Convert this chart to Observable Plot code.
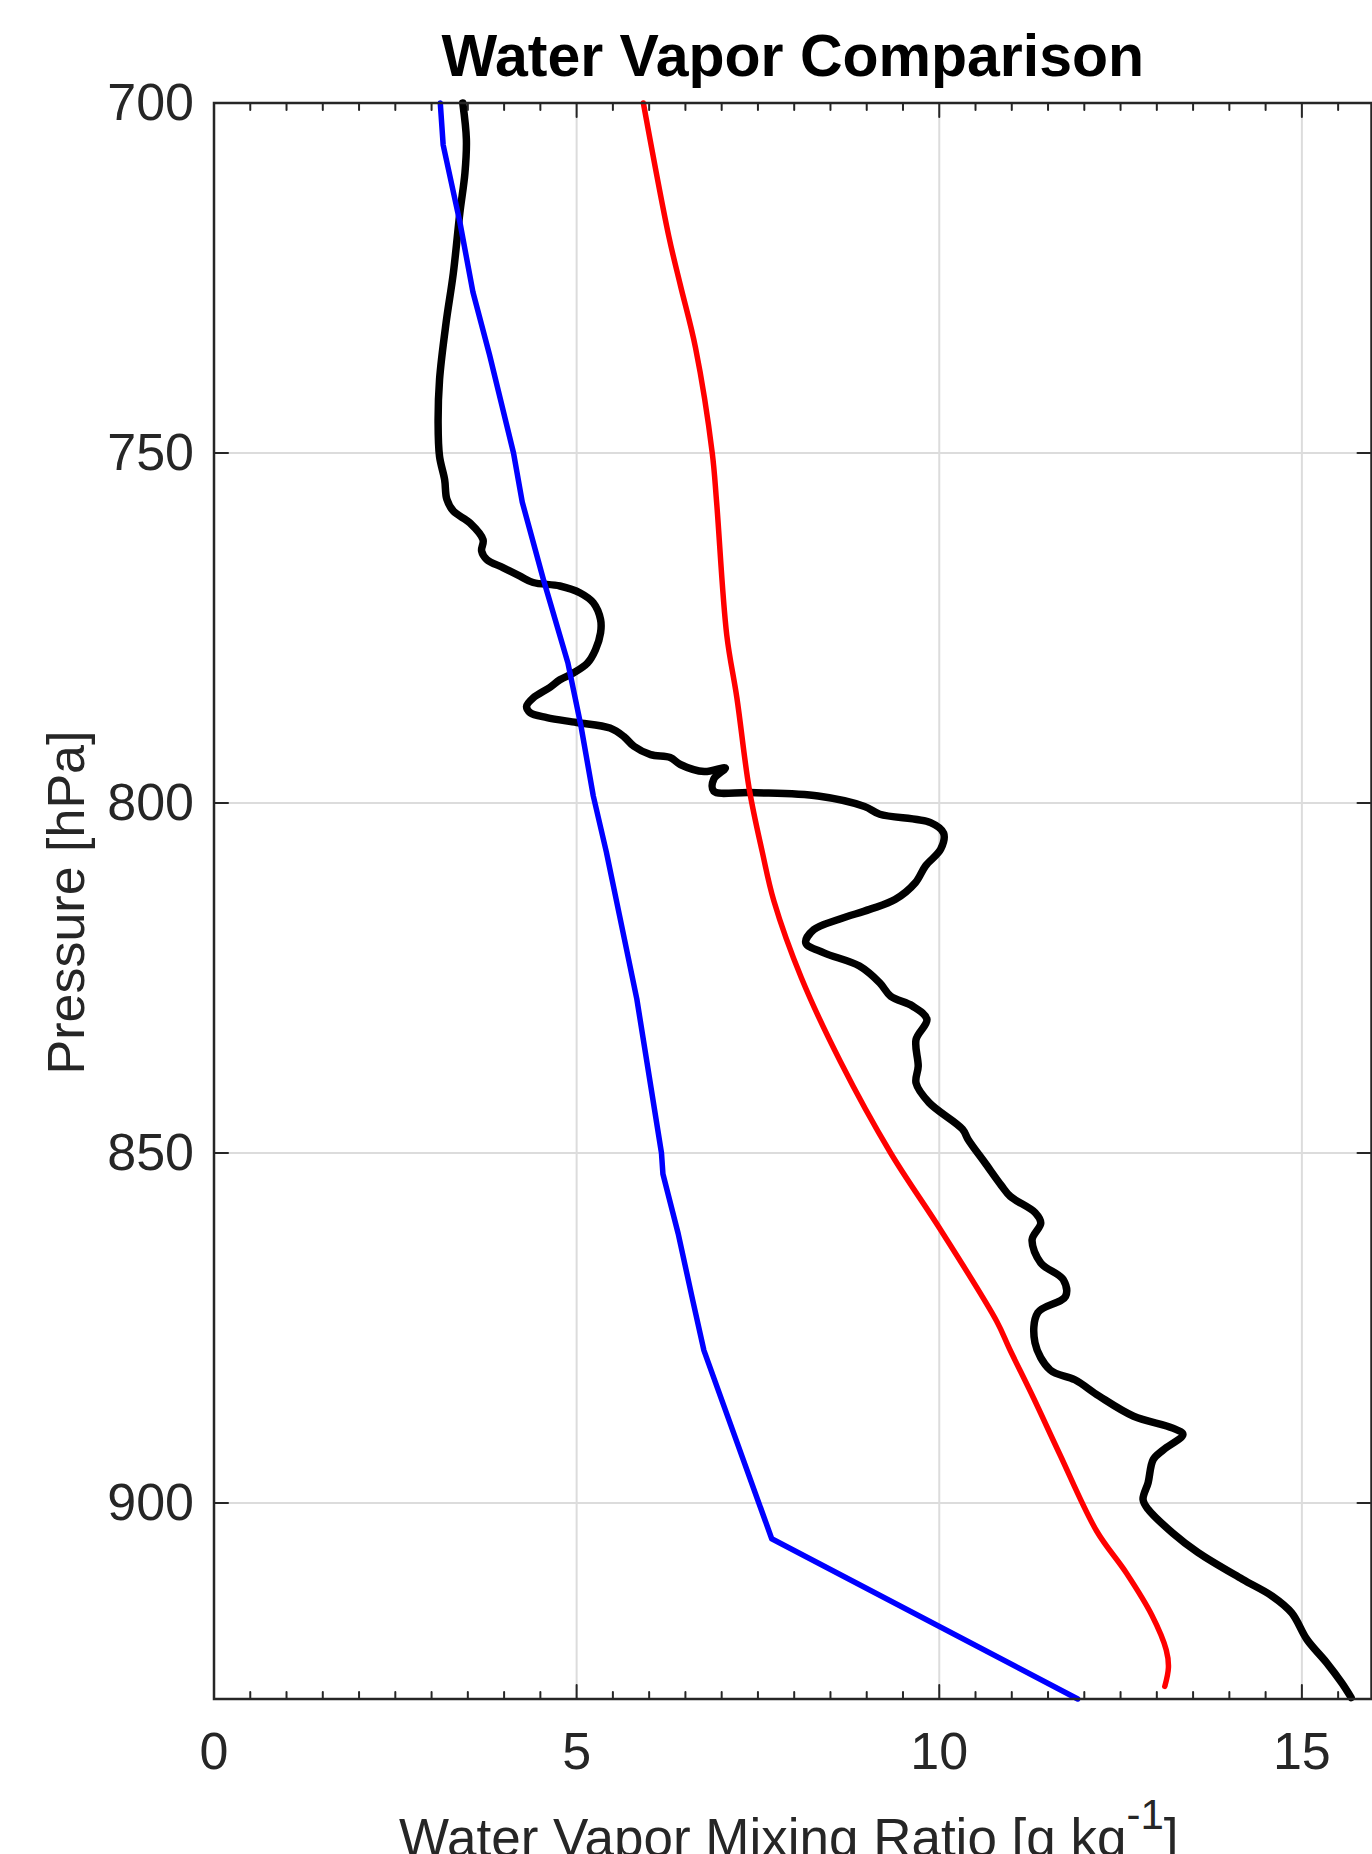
<!DOCTYPE html>
<html>
<head>
<meta charset="utf-8">
<script src="https://cdn.jsdelivr.net/npm/d3@7"></script>
<script src="https://cdn.jsdelivr.net/npm/@observablehq/plot@0.6"></script>
<style>
html, body { margin: 0; padding: 0; background: white; }
#chart svg { display: block; overflow: visible; }
</style>
</head>
<body>
<div id="chart"></div>
<script>
// ---------- data (pressure [hPa], mixing ratio [g/kg]) ----------
// observed sounding (black)
const obsP = [700, 705.2, 710, 715.7, 724.3, 731.4, 739.5, 745.7, 750.5, 753.8, 756.6, 758.3, 760, 762.4, 764, 765.2, 766.4, 767.6, 768.5, 769, 770, 771.4, 773.8, 775.7, 778.1, 780, 781.4, 782.4, 783.5, 785, 786.2, 787.1, 787.8, 788.5, 789.3, 790.5, 791.9, 793.1, 793.5, 794.5, 795.5, 795, 796.6, 798.3, 798.5, 799, 800.5, 801.6, 802.8, 804.3, 806.6, 809, 811.4, 813.8, 815.2, 816.6, 818.1, 820, 821.4, 823.3, 825.7, 827.6, 829, 830.9, 833.8, 837.6, 840, 842.8, 846.6, 848.1, 851.4, 854.7, 856.2, 858.5, 860, 862.4, 865.7, 868.1, 870.5, 872.8, 877.1, 881, 882.4, 884.7, 887.6, 889.3, 890.2, 892.4, 893.8, 897.1, 899.5, 900.9, 904.3, 907.1, 910.9, 913.3, 915.7, 919.5, 922.8, 925.7, 927.8];
const obsQ = [3.43, 3.48, 3.46, 3.39, 3.30, 3.20, 3.11, 3.09, 3.11, 3.18, 3.21, 3.30, 3.53, 3.71, 3.69, 3.76, 3.99, 4.22, 4.40, 4.77, 5.05, 5.23, 5.33, 5.33, 5.26, 5.15, 4.96, 4.77, 4.63, 4.40, 4.31, 4.36, 4.59, 5.00, 5.46, 5.65, 5.79, 6.02, 6.29, 6.43, 6.76, 7.05, 6.89, 6.89, 7.40, 8.33, 8.97, 9.18, 9.88, 10.06, 10.02, 9.81, 9.67, 9.39, 9.04, 8.62, 8.27, 8.16, 8.41, 8.90, 9.18, 9.33, 9.63, 9.83, 9.68, 9.71, 9.68, 9.86, 10.32, 10.40, 10.63, 10.86, 10.98, 11.32, 11.40, 11.28, 11.40, 11.71, 11.74, 11.36, 11.32, 11.53, 11.87, 12.20, 12.68, 13.22, 13.36, 13.09, 12.95, 12.88, 12.81, 12.88, 13.22, 13.57, 14.18, 14.59, 14.86, 15.07, 15.34, 15.55, 15.68];

// model profile (red)
const redP = [700, 719, 726, 735, 750, 757, 776, 785, 798, 807, 814, 825, 837, 850, 861, 874, 878, 885, 893, 904, 910, 916, 921, 923.5, 926.2];
const redQ = [5.92, 6.27, 6.43, 6.64, 6.87, 6.93, 7.07, 7.21, 7.38, 7.56, 7.72, 8.10, 8.64, 9.33, 10.02, 10.79, 10.97, 11.30, 11.66, 12.17, 12.58, 12.93, 13.13, 13.16, 13.11];

// model profile (blue)
const blueP = [700, 706, 717, 727, 736, 750, 757, 768, 780, 789, 799, 807, 816, 828, 850, 853, 861.5, 871, 878.2, 905.1, 928];
const blueQ = [3.12, 3.16, 3.39, 3.57, 3.80, 4.13, 4.25, 4.54, 4.88, 5.06, 5.23, 5.41, 5.59, 5.83, 6.17, 6.19, 6.40, 6.60, 6.755, 7.69, 11.91];

// axes
const xDomain = [0, 15.96];
const yDomain = [700, 928];
const xTickLabels = [0, 5, 10, 15];
const yTickLabels = [700, 750, 800, 850, 900];
const xGrid = [5, 10, 15];
const yGrid = [750, 800, 850, 900];
const xMinorTicks = d3.range(0.5, 16, 0.5).filter(v => v % 5 !== 0);

const titleText = "Water Vapor Comparison";
const yLabelText = "Pressure [hPa]";
const xLabelMain = "Water Vapor Mixing Ratio [g kg";
const xLabelSup = "-1";
const xLabelEnd = "]";
const xLabelText = xLabelMain + xLabelSup + xLabelEnd;

// ---------- build ----------
const toRows = (P, Q) => P.map((p, i) => ({p, q: Q[i]}));
const obs = toRows(obsP, obsQ);
const red = toRows(redP, redQ);
const blue = toRows(blueP, blueQ);

const axisColor = "#262626";
const gridColor = "#dcdcdc";
const tickShape = {draw(context, l) { context.moveTo(0, 0); context.lineTo(0, -l); }};
const tickOpts = {anchor: "start", shape: tickShape, stroke: axisColor, strokeWidth: 2};

const chart = Plot.plot({
  width: 1372,
  height: 1854,
  marginTop: 102.5,
  marginBottom: 155.5,
  marginLeft: 213.5,
  marginRight: 1,
  x: {domain: xDomain},
  y: {domain: yDomain, reverse: true},
  style: {fontFamily: "'Liberation Sans', Arial, Helvetica, sans-serif", color: axisColor, background: "white"},
  marks: [
    Plot.gridX(xGrid, {stroke: gridColor, strokeOpacity: 1, strokeWidth: 2}),
    Plot.gridY(yGrid, {stroke: gridColor, strokeOpacity: 1, strokeWidth: 2}),
    Plot.line(obs, {x: "q", y: "p", stroke: "#000000", strokeWidth: 7.5, curve: "catmull-rom", strokeLinejoin: "round", strokeLinecap: "round"}),
    Plot.line(red, {x: "q", y: "p", stroke: "#ff0000", strokeWidth: 5.5, curve: "catmull-rom", strokeLinejoin: "round"}),
    Plot.line(blue, {x: "q", y: "p", stroke: "#0000ff", strokeWidth: 5.5, strokeLinejoin: "round"}),
    Plot.frame({stroke: axisColor, strokeWidth: 2.5}),
    // inward ticks: bottom & top (major + minor)
    Plot.vector(xGrid, {x: d => d, y: yDomain[1], length: 14, rotate: 0, ...tickOpts}),
    Plot.vector(xMinorTicks, {x: d => d, y: yDomain[1], length: 7, rotate: 0, ...tickOpts}),
    Plot.vector(xGrid, {x: d => d, y: yDomain[0], length: 14, rotate: 180, ...tickOpts}),
    Plot.vector(xMinorTicks, {x: d => d, y: yDomain[0], length: 7, rotate: 180, ...tickOpts}),
    // inward ticks: left & right
    Plot.vector(yGrid, {x: xDomain[0], y: d => d, length: 14, rotate: 90, ...tickOpts}),
    Plot.vector(yGrid, {x: xDomain[1], y: d => d, length: 14, rotate: -90, ...tickOpts}),
    // tick labels
    Plot.axisX(xTickLabels, {anchor: "bottom", tickSize: 0, tickPadding: 33.5, fontSize: 52, label: null, fill: axisColor}),
    Plot.axisY(yTickLabels, {anchor: "left", tickSize: 0, tickPadding: 20, fontSize: 52, label: null, fill: axisColor}),
    // title & axis labels
    Plot.text([titleText], {frameAnchor: "top", lineAnchor: "bottom", dy: -27.5, fontSize: 59, fontWeight: "bold", fill: "#000000"}),
    Plot.text([yLabelText], {frameAnchor: "left", textAnchor: "middle", rotate: -90, dx: -147, dy: 1.5, fontSize: 52, fill: axisColor}),
    Plot.text([xLabelText], {frameAnchor: "bottom", lineAnchor: "bottom", dy: 156.5, dx: -4, fontSize: 53, fill: axisColor})
  ]
});

// superscript in the x-axis label
d3.select(chart).selectAll("text")
  .filter(function () { return this.textContent === xLabelText; })
  .each(function () {
    const t = d3.select(this);
    t.text(null);
    t.append("tspan").text(xLabelMain);
    t.append("tspan").attr("dy", -27).attr("font-size", 42).text(xLabelSup);
    t.append("tspan").attr("dy", 27).text(xLabelEnd);
  });

document.getElementById("chart").appendChild(chart);
</script>
</body>
</html>
